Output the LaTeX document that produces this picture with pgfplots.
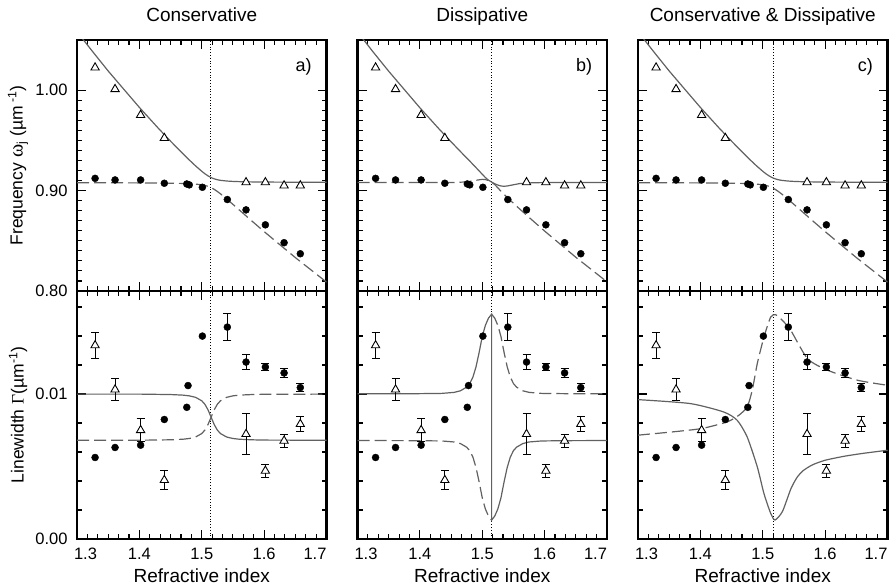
\documentclass[border=0pt]{standalone}
\usepackage{pgfplots}
\pgfplotsset{compat=1.18}
\usepackage{fontspec}
\setmainfont{Liberation Sans}
\newfontfamily\symb{Liberation Serif}
\definecolor{cg}{gray}{0.38}
\pgfplotsset{
  panel/.style={scale only axis, width=249.5pt,
    xmin=1.3, xmax=1.7, xtick={1.3,1.4,1.5,1.6,1.7}, minor x tick num=5,
    tick align=inside, xtick pos=both, ytick pos=both,
    axis line style={line width=2.4pt},
    major tick length=9pt, minor tick length=5pt,
    every tick/.style={black, line width=1.1pt},
    clip mode=individual, scaled ticks=false,
    tick label style={font=\fontsize{16.5}{19}\selectfont},
    yticklabel style={xshift=-6pt},
    xticklabel style={anchor=base, yshift=-20pt},
  },
  toprow/.style={panel, height=251pt, ymin=0.8, ymax=1.05,
    ytick={0.8,0.9,1.0}, minor y tick num=9, xticklabels={}},
  botrow/.style={panel, height=248pt, ymin=0, ymax=0.0171,
    ytick={0,0.01}, minor ytick={0.002,0.004,0.006,0.008,0.012,0.014,0.016},
    xticklabels={{\makebox[0pt][l]{\hspace{-3pt}1.3}},1.4,1.5,1.6,{\makebox[0pt][r]{1.7}}},
    xlabel={Refractive index},
    xlabel style={at={(axis description cs:0.5,0)}, anchor=base, yshift=-43pt, font=\fontsize{19}{22}\selectfont}},
  solidc/.style={cg, line width=1.2pt},
  dashc/.style={cg, line width=1.2pt, dash pattern=on 12pt off 5pt},
  dotl/.style={black, line width=0.8pt, dotted},
  circ/.style={only marks, mark=*, mark size=3.5pt, mark options={black, fill=black}},
  tri/.style={only marks, mark=triangle*, mark size=4.8pt, mark options={black, fill=white, line width=0.9pt}},
  ebars/.style={error bars/.cd, y dir=both, y explicit, error bar style={black, line width=1pt},
    error mark options={black, rotate=90, mark size=4pt, line width=1pt}},
}
\pgfplotstableread{
n f
1.329 0.9122
1.361 0.9106
1.402 0.9106
1.440 0.9073
1.476 0.9066
1.480 0.9057
1.501 0.9033
1.541 0.8911
1.571 0.8808
1.602 0.8659
1.632 0.8481
1.658 0.8371
}\topcirc
\pgfplotstableread{
n f
1.329 1.0225
1.361 1.0010
1.402 0.9752
1.440 0.9523
1.571 0.9082
1.602 0.9082
1.632 0.9050
1.658 0.9050
}\toptri
\pgfplotstableread{
n g
1.329 0.00562
1.361 0.00631
1.402 0.00647
1.440 0.00824
1.476 0.00908
1.478 0.01058
1.501 0.01399
}\botcirc
\pgfplotstableread{
n g e
1.541 0.01461 0.00095
1.571 0.01220 0.00050
1.602 0.01186 0.00025
1.632 0.01145 0.00030
1.658 0.01044 0.00030
}\botcirce
\pgfplotstableread{
n g e
1.329 0.01335 0.00090
1.361 0.01030 0.00075
1.402 0.00750 0.00080
1.440 0.00406 0.00065
1.571 0.00723 0.00140
1.602 0.00470 0.00045
1.632 0.00677 0.00045
1.658 0.00792 0.00050
}\bottri
\newcommand\topdata{%
  \addplot[circ] table[x=n,y=f] {\topcirc};
  \addplot[tri] table[x=n,y=f] {\toptri};
}
\newcommand\botdata{%
  \addplot[circ] table[x=n,y=g] {\botcirc};
  \addplot[circ, ebars] table[x=n,y=g,y error=e] {\botcirce};
  \addplot[tri, ebars] table[x=n,y=g,y error=e] {\bottri};
}
\begin{document}
\begin{tikzpicture}[x=1pt,y=1pt]
\path[use as bounding box] (0,0) rectangle (895,587);
% ---------- a) top
\begin{axis}[toprow, at={(77pt,296pt)}, anchor=south west,
  yticklabels={0.80,0.90,1.00},
  ylabel={Frequency {\symb\fontsize{20}{20}\selectfont ω}\textsubscript{j} (µm\textsuperscript{ -1})},
  ylabel style={at={(axis description cs:-0.2365,0.5)}, anchor=center, font=\fontsize{17.5}{20}\selectfont}]
\addplot[dotl] coordinates {(1.5145,0.8) (1.5145,1.05)};
\addplot[solidc] coordinates {(1.30,1.05825)(1.325,1.03849)(1.35,1.01911)(1.40,0.98284)(1.43,0.96235)(1.45,0.94923)(1.47,0.93657)(1.48,0.93050)(1.49,0.92465)(1.50,0.91923)(1.505,0.91679)(1.51,0.91468)(1.515,0.91296)(1.52,0.91170)(1.525,0.91082)(1.53,0.91023)(1.54,0.90953)(1.55,0.90915)(1.56,0.90892)(1.58,0.90866)(1.60,0.90852)(1.65,0.90834)(1.70,0.90825)};
\addplot[dashc] coordinates {(1.30,0.90783)(1.35,0.90777)(1.40,0.90766)(1.43,0.90754)(1.45,0.90739)(1.47,0.90712)(1.48,0.90689)(1.49,0.90650)(1.50,0.90577)(1.505,0.90516)(1.51,0.90425)(1.515,0.90296)(1.52,0.90123)(1.525,0.89915)(1.53,0.89679)(1.54,0.89165)(1.55,0.88627)(1.56,0.88081)(1.58,0.86991)(1.60,0.85917)(1.65,0.83330)(1.70,0.80887)};
\topdata
\node[anchor=base, font=\fontsize{19}{22}\selectfont, yshift=18pt] at (rel axis cs:0.5,1) {Conservative};
\node[anchor=north east, font=\fontsize{18}{20}\selectfont] at (rel axis cs:0.955,0.94) {a)};
\end{axis}
% ---------- a) bottom
\begin{axis}[botrow, at={(77pt,48pt)}, anchor=south west,
  yticklabels={0.00,0.01},
  ylabel={Linewidth {\symb Γ}(µm\textsuperscript{-1})},
  ylabel style={at={(axis description cs:-0.2365,0.5)}, anchor=center, font=\fontsize{17.5}{20}\selectfont}]
\addplot[dotl] coordinates {(1.5145,0) (1.5145,0.0171)};
\addplot[solidc] coordinates {(1.30,0.00999)(1.40,0.00999)(1.45,0.00996)(1.47,0.00992)(1.48,0.00987)(1.49,0.00977)(1.50,0.00953)(1.505,0.00929)(1.51,0.00891)(1.515,0.00840)(1.52,0.00789)(1.525,0.00751)(1.53,0.00727)(1.54,0.00703)(1.55,0.00693)(1.56,0.00688)(1.58,0.00684)(1.60,0.00682)(1.70,0.00681)};
\addplot[dashc] coordinates {(1.30,0.00681)(1.40,0.00681)(1.45,0.00684)(1.47,0.00688)(1.48,0.00693)(1.49,0.00703)(1.50,0.00727)(1.505,0.00751)(1.51,0.00789)(1.515,0.00840)(1.52,0.00891)(1.525,0.00929)(1.53,0.00953)(1.54,0.00977)(1.55,0.00987)(1.56,0.00992)(1.58,0.00996)(1.60,0.00998)(1.70,0.00999)};
\botdata
\end{axis}
% ---------- b) top
\begin{axis}[toprow, at={(357.5pt,296pt)}, anchor=south west, yticklabels={}]
\addplot[dotl] coordinates {(1.5145,0.8) (1.5145,1.05)};
\addplot[solidc] coordinates {(1.30,1.05808)(1.325,1.03811)(1.35,1.01889)(1.40,0.98250)(1.43,0.96189)(1.45,0.94862)(1.47,0.93571)(1.48,0.92939)(1.49,0.9229)(1.50,0.9163)(1.505,0.9130)(1.51,0.9104)(1.515,0.9085)(1.52,0.9068)(1.525,0.9055)(1.53,0.9046)(1.535,0.9043)(1.54,0.9046)(1.55,0.9058)(1.56,0.9070)(1.58,0.9078)(1.60,0.9080)(1.70,0.9080)};
\addplot[dashc] coordinates {(1.30,0.9080)(1.45,0.9080)(1.47,0.9085)(1.48,0.9092)(1.49,0.9103)(1.50,0.9112)(1.505,0.9110)(1.51,0.9100)(1.515,0.9085)(1.52,0.9060)(1.525,0.9028)(1.53,0.8993)(1.54,0.8932)(1.55,0.8874)(1.56,0.8817)(1.58,0.8706)(1.60,0.8597)(1.65,0.8336)(1.70,0.8091)};
\topdata
\node[anchor=base, font=\fontsize{19}{22}\selectfont, yshift=18pt] at (rel axis cs:0.5,1) {Dissipative};
\node[anchor=north east, font=\fontsize{18}{20}\selectfont] at (rel axis cs:0.955,0.94) {b)};
\end{axis}
% ---------- b) bottom
\begin{axis}[botrow, at={(357.5pt,48pt)}, anchor=south west, yticklabels={}]
\addplot[dotl] coordinates {(1.5145,0) (1.5145,0.0171)};
\addplot[solidc] coordinates {(1.30,0.01001)(1.395,0.01002)(1.435,0.01004)(1.455,0.01011)(1.465,0.01022)(1.475,0.01047)(1.48,0.01072)(1.485,0.01116)(1.49,0.01187)(1.495,0.01286)(1.50,0.01396)(1.505,0.01473)(1.51,0.01523)(1.515,0.01550)(1.515,0.00130)(1.52,0.00158)(1.525,0.00207)(1.53,0.00284)(1.535,0.00394)(1.54,0.00493)(1.545,0.00565)(1.55,0.00609)(1.555,0.00633)(1.565,0.00658)(1.575,0.00669)(1.595,0.00676)(1.635,0.00678)(1.70,0.00679)};
\addplot[dashc] coordinates {(1.30,0.00679)(1.395,0.00678)(1.435,0.00676)(1.455,0.00669)(1.465,0.00658)(1.475,0.00633)(1.48,0.00609)(1.485,0.00565)(1.49,0.00493)(1.495,0.00394)(1.50,0.00284)(1.505,0.00207)(1.51,0.00158)(1.515,0.00130)};
\addplot[dashc] coordinates {(1.515,0.01550)(1.52,0.01523)(1.525,0.01473)(1.53,0.01396)(1.535,0.01286)(1.54,0.01187)(1.545,0.01116)(1.55,0.01072)(1.555,0.01047)(1.565,0.01022)(1.575,0.01011)(1.595,0.01004)(1.635,0.01002)(1.70,0.01001)};
\botdata
\end{axis}
% ---------- c) top
\begin{axis}[toprow, at={(638pt,296pt)}, anchor=south west, yticklabels={}]
\addplot[dotl] coordinates {(1.517,0.8) (1.517,1.05)};
\addplot[solidc] coordinates {(1.30,1.05825)(1.325,1.03849)(1.35,1.01911)(1.40,0.98284)(1.43,0.96235)(1.45,0.94923)(1.47,0.93657)(1.48,0.93050)(1.49,0.92465)(1.50,0.91923)(1.505,0.91679)(1.51,0.91468)(1.515,0.91296)(1.52,0.91170)(1.525,0.91082)(1.53,0.91023)(1.54,0.90953)(1.55,0.90915)(1.56,0.90892)(1.58,0.90866)(1.60,0.90852)(1.65,0.90834)(1.70,0.90825)};
\addplot[dashc] coordinates {(1.30,0.90783)(1.35,0.90777)(1.40,0.90766)(1.43,0.90754)(1.45,0.90739)(1.47,0.90712)(1.48,0.90689)(1.49,0.90650)(1.50,0.90577)(1.505,0.90516)(1.51,0.90425)(1.515,0.90296)(1.52,0.90123)(1.525,0.89915)(1.53,0.89679)(1.54,0.89165)(1.55,0.88627)(1.56,0.88081)(1.58,0.86991)(1.60,0.85917)(1.65,0.83330)(1.70,0.80887)};
\topdata
\node[anchor=base, font=\fontsize{19}{22}\selectfont, yshift=18pt] at (rel axis cs:0.5,1) {Conservative \& Dissipative};
\node[anchor=north east, font=\fontsize{18}{20}\selectfont] at (rel axis cs:0.955,0.94) {c)};
\end{axis}
% ---------- c) bottom
\begin{axis}[botrow, at={(638pt,48pt)}, anchor=south west, yticklabels={}]
\addplot[dotl] coordinates {(1.517,0) (1.517,0.0171)};
\addplot[solidc, smooth, tension=0.4] coordinates {(1.300,0.00961)(1.3835,0.00934)(1.4373,0.00876)(1.4589,0.00819)(1.475,0.00704)(1.4912,0.00498)(1.5019,0.00314)(1.5127,0.00177)(1.5197,0.00131)(1.5316,0.00190)(1.545,0.00345)(1.555,0.00425)(1.565,0.00472)(1.58,0.00512)(1.60,0.00543)(1.63,0.00570)(1.66,0.00590)(1.70,0.00612)};
\addplot[dashc, smooth, tension=0.4] coordinates {(1.30,0.00716)(1.3565,0.00739)(1.4023,0.00762)(1.4427,0.00807)(1.4616,0.00853)(1.475,0.00911)(1.4831,0.01025)(1.4912,0.01209)(1.5019,0.01392)(1.5127,0.0153)(1.5208,0.01546)(1.5316,0.01507)(1.545,0.01438)(1.5719,0.01243)(1.6043,0.01163)(1.6527,0.01094)(1.70,0.0106)};
\botdata
\end{axis}
\end{tikzpicture}
\end{document}
